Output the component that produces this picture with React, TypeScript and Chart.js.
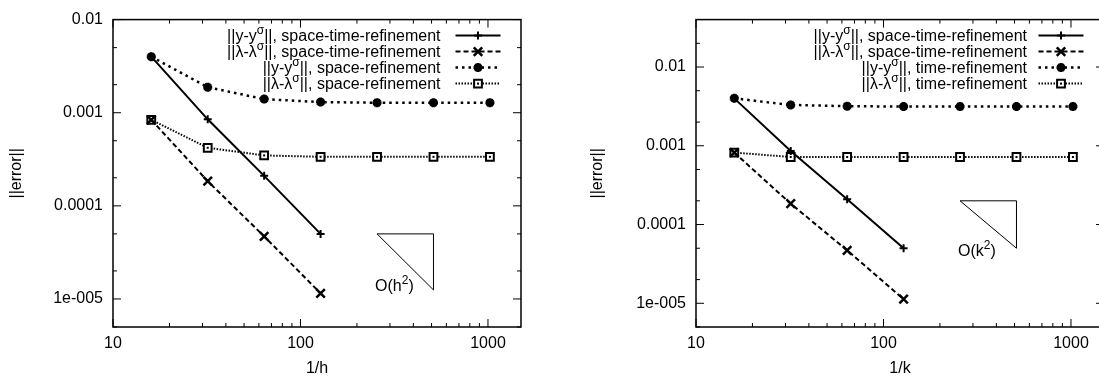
import React, { useEffect, useRef } from "react";
import { Chart, registerables } from "chart.js";

Chart.register(...registerables);

// ---------- data ----------
const xAll = [16, 32, 64, 128, 256, 512, 1024];
const xSpaceTime = [16, 32, 64, 128];

// left panel: error vs 1/h
const hErrYSpaceTime = [0.004, 0.00085, 0.00021, 0.00005];
const hErrLamSpaceTime = [0.00084, 0.000184, 0.000047, 0.0000115];
const hErrYSpace = [0.004, 0.00188, 0.0014, 0.0013, 0.00128, 0.00128, 0.00128];
const hErrLamSpace = [0.00084, 0.00042, 0.000348, 0.000336, 0.000336, 0.000336, 0.000336];

// right panel: error vs 1/k
const kErrYSpaceTime = [0.004, 0.00086, 0.00021, 0.00005];
const kErrLamSpaceTime = [0.00082, 0.000184, 0.000047, 0.0000113];
const kErrYTime = [0.004, 0.0033, 0.00318, 0.00315, 0.00315, 0.00315, 0.00315];
const kErrLamTime = [0.00082, 0.00072, 0.00072, 0.00072, 0.00072, 0.00072, 0.00072];

// axes
const xTickValues = [10, 100, 1000];
const xTickLabels = ["10", "100", "1000"];
const yTickValues = [1e-5, 1e-4, 1e-3, 1e-2];
const yTickLabels = ["1e-005", "0.0001", "0.001", "0.01"];
const xRange = [10, 1500];
const yRangeLeft = [5e-6, 0.01];
const yRangeRight = [5e-6, 0.04];
const yTitle = "||error||";
const xTitleLeft = "1/h";
const xTitleRight = "1/k";

// legends: [before, superscript, after]
const legendLeft = [
  ["||y-y", "σ", "||, space-time-refinement"],
  ["||λ-λ", "σ", "||, space-time-refinement"],
  ["||y-y", "σ", "||, space-refinement"],
  ["||λ-λ", "σ", "||, space-refinement"],
];
const legendRight = [
  ["||y-y", "σ", "||, space-time-refinement"],
  ["||λ-λ", "σ", "||, space-time-refinement"],
  ["||y-y", "σ", "||, time-refinement"],
  ["||λ-λ", "σ", "||, time-refinement"],
];

// slope triangles
const triX = [256, 512];
const triYLeft = [5e-5, 1.25e-5];
const triYRight = [2e-4, 5e-5];
const triLabelLeft = ["O(h", "2", ")"];
const triLabelRight = ["O(k", "2", ")"];
const triLabelPosLeft = [256, 1.4e-5];
const triLabelPosRight = [256, 4.7e-5];

// ---------- styles ----------
const FONT = "'Liberation Sans', Arial, Helvetica, sans-serif";
const seriesStyles = [
  { dash: [] as number[], width: 2, point: "cross", radius: 4, pw: 2 },
  { dash: [5, 3], width: 2, point: "crossRot", radius: 6, pw: 2.5 },
  { dash: [2.5, 4], width: 2.5, point: "star", radius: 4.5, pw: 3 },
  { dash: [1.5, 1.5], width: 2, point: "rect", radius: 5.5, pw: 2 },
];

type Panel = {
  series: { xs: number[]; ys: number[] }[];
  yRange: number[];
  xTitle: string;
  legend: string[][];
  triY: number[];
  triLabel: string[];
  triLabelPos: number[];
  yTitlePad: number;
  legendTextOffset: number;
  width: number;
};

function drawMarker(ctx: CanvasRenderingContext2D, st: any, x: number, y: number) {
  const r = st.radius;
  ctx.save();
  ctx.setLineDash([]);
  ctx.lineWidth = st.pw;
  ctx.strokeStyle = "#000";
  ctx.beginPath();
  if (st.point === "cross" || st.point === "star") {
    ctx.moveTo(x - r, y);
    ctx.lineTo(x + r, y);
    ctx.moveTo(x, y - r);
    ctx.lineTo(x, y + r);
  }
  if (st.point === "crossRot" || st.point === "star") {
    const d = r * Math.SQRT1_2;
    ctx.moveTo(x - d, y - d);
    ctx.lineTo(x + d, y + d);
    ctx.moveTo(x - d, y + d);
    ctx.lineTo(x + d, y - d);
  }
  if (st.point === "rect") {
    const s = r * Math.SQRT1_2;
    ctx.fillStyle = "#fff";
    ctx.fillRect(x - s, y - s, 2 * s, 2 * s);
    ctx.rect(x - s, y - s, 2 * s, 2 * s);
  }
  ctx.stroke();
  if (st.point === "rect") {
    ctx.fillStyle = "#000";
    ctx.fillRect(x - 1, y - 1, 2, 2);
  }
  ctx.restore();
}

function drawRich(
  ctx: CanvasRenderingContext2D,
  parts: string[],
  x: number,
  baseline: number,
  align: "left" | "right"
) {
  const main = `16px ${FONT}`;
  const sup = `12px ${FONT}`;
  ctx.font = main;
  const w0 = ctx.measureText(parts[0]).width;
  const w2 = ctx.measureText(parts[2]).width;
  ctx.font = sup;
  const w1 = ctx.measureText(parts[1]).width;
  const total = w0 + w1 + w2;
  let cx = align === "right" ? x - total : x;
  ctx.textAlign = "left";
  ctx.textBaseline = "alphabetic";
  ctx.fillStyle = "#000";
  ctx.font = main;
  ctx.fillText(parts[0], cx, baseline);
  cx += w0;
  ctx.font = sup;
  ctx.fillText(parts[1], cx, baseline - 7);
  cx += w1;
  ctx.font = main;
  ctx.fillText(parts[2], cx, baseline);
}

function makeDecor(p: Panel) {
  return {
    id: "panelDecor",
    afterDatasetsDraw(chart: any) {
      const ctx: CanvasRenderingContext2D = chart.ctx;
      const xs = chart.scales.x;
      const ys = chart.scales.y;
      const { left, right, top, bottom } = chart.chartArea;
      ctx.save();
      ctx.strokeStyle = "#000";
      ctx.setLineDash([]);
      ctx.lineWidth = 1;
      const seg = (x1: number, y1: number, x2: number, y2: number) => {
        ctx.beginPath();
        ctx.moveTo(x1, y1);
        ctx.lineTo(x2, y2);
        ctx.stroke();
      };
      // square markers: centre dot (gnuplot style)
      chart.data.datasets.forEach((ds: any, i: number) => {
        if (seriesStyles[i].point !== "rect") return;
        const meta = chart.getDatasetMeta(i);
        meta.data.forEach((pt: any) => {
          ctx.fillStyle = "#000";
          ctx.fillRect(pt.x - 1, pt.y - 1, 2, 2);
        });
      });
      // x ticks (inward, mirrored)
      for (let e = 1; e <= 3; e++) {
        for (let m = 1; m <= 9; m++) {
          const v = m * Math.pow(10, e);
          if (v < xs.min || v > xs.max) continue;
          const px = xs.getPixelForValue(v);
          const len = m === 1 ? 8 : 4;
          seg(px, bottom, px, bottom - len);
          seg(px, top, px, top + len);
        }
      }
      // y ticks
      for (let e = -6; e <= -1; e++) {
        for (const m of [1, 2, 5]) {
          const v = m * Math.pow(10, e);
          if (v < ys.min * 0.999 || v > ys.max * 1.001) continue;
          const py = ys.getPixelForValue(v);
          const len = m === 1 ? 8 : 4;
          seg(left, py, left + len, py);
          seg(right, py, right - len, py);
        }
      }
      // frame
      ctx.lineWidth = 1.5;
      ctx.strokeRect(left, top, right - left, bottom - top);

      // slope triangle
      ctx.lineWidth = 1;
      const tx1 = xs.getPixelForValue(triX[0]);
      const tx2 = xs.getPixelForValue(triX[1]);
      const ty1 = ys.getPixelForValue(p.triY[0]);
      const ty2 = ys.getPixelForValue(p.triY[1]);
      ctx.beginPath();
      ctx.moveTo(tx1, ty1);
      ctx.lineTo(tx2, ty1);
      ctx.lineTo(tx2, ty2);
      ctx.closePath();
      ctx.stroke();
      const lx = xs.getPixelForValue(p.triLabelPos[0]);
      const ly = ys.getPixelForValue(p.triLabelPos[1]);
      drawRich(ctx, p.triLabel, lx - 2, ly + 5.5, "left");

      // legend
      for (let i = 0; i < p.legend.length; i++) {
        const cy = top + 16 + 16 * i;
        drawRich(ctx, p.legend[i], right - p.legendTextOffset, cy + 5.5, "right");
        const st = seriesStyles[i];
        const x1 = right - 65.5;
        const x2 = right - 20.5;
        ctx.save();
        ctx.lineWidth = st.width;
        ctx.setLineDash(st.dash);
        ctx.beginPath();
        ctx.moveTo(x1, cy);
        ctx.lineTo(x2, cy);
        ctx.stroke();
        ctx.restore();
        drawMarker(ctx, st, (x1 + x2) / 2, cy);
      }
      ctx.restore();
    },
  };
}

function PanelChart({ p, left }: { p: Panel; left: number }) {
  const ref = useRef<HTMLCanvasElement>(null);
  useEffect(() => {
    if (!ref.current) return;
    Chart.defaults.font.family = FONT;
    Chart.defaults.color = "#000";
    const datasets = p.series.map((s, i) => {
      const st = seriesStyles[i];
      return {
        data: s.xs.map((x, j) => ({ x, y: s.ys[j] })),
        borderColor: "#000",
        borderWidth: st.width,
        borderDash: st.dash,
        pointStyle: st.point,
        pointRadius: st.radius,
        pointBorderWidth: st.pw,
        pointBorderColor: "#000",
        pointBackgroundColor: "#fff",
        fill: false,
        tension: 0,
      };
    });
    const chart = new Chart(ref.current, {
      type: "line",
      data: { datasets } as any,
      options: {
        responsive: false,
        animation: false,
        devicePixelRatio: 1,
        layout: { padding: { left: 0, top: 17, right: p.width - 521, bottom: 0 } },
        plugins: { legend: { display: false }, tooltip: { enabled: false } },
        scales: {
          x: {
            type: "logarithmic",
            min: xRange[0],
            max: xRange[1],
            bounds: "data",
            grid: { display: false, drawTicks: false },
            border: { display: false },
            afterBuildTicks: (s: any) => {
              s.ticks = xTickValues.map((v) => ({ value: v, major: true }));
            },
            afterFit: (s: any) => {
              s.height = 49;
            },
            ticks: {
              autoSkip: false,
              maxRotation: 0,
              minRotation: 0,
              padding: 7,
              color: "#000",
              font: { size: 16 },
              callback: (_v: any, i: number) => xTickLabels[i],
            },
            title: {
              display: true,
              text: p.xTitle,
              color: "#000",
              font: { size: 16, lineHeight: "14px" },
              padding: { top: 0, bottom: 0 },
            },
          },
          y: {
            type: "logarithmic",
            min: p.yRange[0],
            max: p.yRange[1],
            bounds: "data",
            grid: { display: false, drawTicks: false },
            border: { display: false },
            afterBuildTicks: (s: any) => {
              s.ticks = yTickValues.map((v) => ({ value: v, major: true }));
            },
            afterFit: (s: any) => {
              s.width = 113;
            },
            ticks: {
              autoSkip: false,
              padding: 10,
              color: "#000",
              font: { size: 16 },
              callback: (_v: any, i: number) => yTickLabels[i],
            },
            title: {
              display: true,
              text: yTitle,
              color: "#000",
              font: { size: 16, lineHeight: "16px" },
              padding: { top: p.yTitlePad, bottom: 0 },
            },
          },
        },
      } as any,
      plugins: [makeDecor(p)],
    });
    return () => chart.destroy();
  }, [p]);
  return (
    <canvas
      ref={ref}
      width={p.width}
      height={376}
      style={{ position: "absolute", left, top: 0, width: p.width, height: 376, display: "block" }}
    />
  );
}

const leftPanel: Panel = {
  series: [
    { xs: xSpaceTime, ys: hErrYSpaceTime },
    { xs: xSpaceTime, ys: hErrLamSpaceTime },
    { xs: xAll, ys: hErrYSpace },
    { xs: xAll, ys: hErrLamSpace },
  ],
  yRange: yRangeLeft,
  xTitle: xTitleLeft,
  legend: legendLeft,
  triY: triYLeft,
  triLabel: triLabelLeft,
  triLabelPos: triLabelPosLeft,
  yTitlePad: 9,
  legendTextOffset: 80.5,
  width: 549,
};

const rightPanel: Panel = {
  series: [
    { xs: xSpaceTime, ys: kErrYSpaceTime },
    { xs: xSpaceTime, ys: kErrLamSpaceTime },
    { xs: xAll, ys: kErrYTime },
    { xs: xAll, ys: kErrLamTime },
  ],
  yRange: yRangeRight,
  xTitle: xTitleRight,
  legend: legendRight,
  triY: triYRight,
  triLabel: triLabelRight,
  triLabelPos: triLabelPosRight,
  yTitlePad: 7,
  legendTextOffset: 77,
  width: 560,
};

export default function App() {
  return (
    <div
      style={{
        position: "fixed",
        left: 0,
        top: 0,
        width: 1099,
        height: 376,
        overflow: "hidden",
        background: "#fff",
      }}
    >
      <PanelChart p={leftPanel} left={0} />
      <PanelChart p={rightPanel} left={583} />
    </div>
  );
}
